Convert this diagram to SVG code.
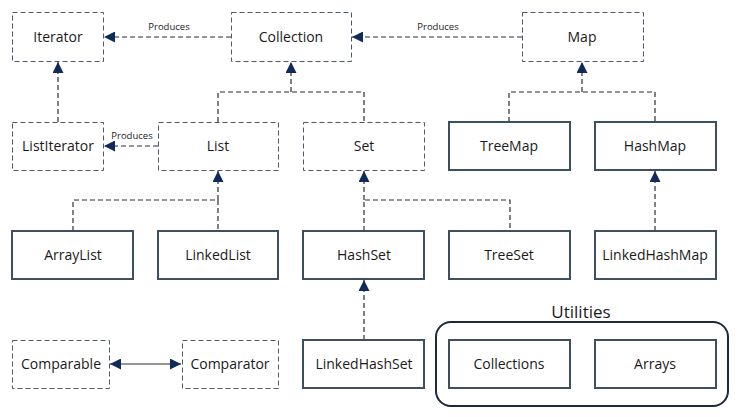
<svg xmlns="http://www.w3.org/2000/svg" width="740" height="417" viewBox="0 0 740 417">
<style>
.dash{fill:#fff;stroke:#4d5966;stroke-width:1;stroke-dasharray:5,3}
.solid{fill:#fff;stroke:#3e4f5f;stroke-width:2}
.lbl{font-family:"Open Sans","Noto Sans",sans-serif;font-size:14px;fill:#1a1a1a;text-anchor:middle}
.small{font-family:"Open Sans","Noto Sans",sans-serif;font-size:9.5px;fill:#1a1a1a;text-anchor:middle}
.conn{fill:none;stroke:#2b2f36;stroke-width:1.2;stroke-dasharray:5,3}
.arr{marker-end:url(#ah)}
</style>
<defs>
<marker id="ah" viewBox="0 0 10 10" refX="10" refY="5" markerWidth="11" markerHeight="11" markerUnits="userSpaceOnUse" orient="auto">
<path d="M0,0 L10,5 L0,10 Z" fill="#102a5a"/>
</marker>
<marker id="ahs" viewBox="0 0 10 10" refX="10" refY="5" markerWidth="11" markerHeight="11" markerUnits="userSpaceOnUse" orient="auto-start-reverse">
<path d="M0,0 L10,5 L0,10 Z" fill="#102a5a"/>
</marker>
</defs>
<rect width="740" height="417" fill="#fff"/>
<g id="connectors">
<path class="conn arr" d="M231,37 H104"/>
<path class="conn arr" d="M522,37 H352"/>
<path class="conn arr" d="M58,122 V62"/>
<path class="conn arr" d="M158,146 H104"/>
<path class="conn" d="M218,122 V92 H364 V122"/>
<path class="conn arr" d="M291,92 V62"/>
<path class="conn" d="M509,122 V92 H655 V122"/>
<path class="conn arr" d="M582,92 V62"/>
<path class="conn" d="M73,231 V200 H218 V231"/>
<path class="conn arr" d="M218,200 V171"/>
<path class="conn" d="M364,231 V200 H510 V231"/>
<path class="conn arr" d="M364,200 V171"/>
<path class="conn arr" d="M655,231 V171"/>
<path class="conn arr" d="M364,340 V280"/>
<path d="M110,364 H181" fill="none" stroke="#2b2f36" stroke-width="1.2" marker-start="url(#ahs)" marker-end="url(#ahs)"/>
<text class="small" x="169" y="30">Produces</text>
<text class="small" x="438" y="30">Produces</text>
<text class="small" x="132" y="139">Produces</text>
</g>
<g id="Iterator"><rect class="dash" x="12.5" y="12.5" width="91" height="49"/><text class="lbl" x="58" y="42">Iterator</text></g>
<g id="Collection"><rect class="dash" x="231.5" y="12.5" width="120" height="49"/><text class="lbl" x="291" y="42">Collection</text></g>
<g id="Map"><rect class="dash" x="522.5" y="12.5" width="121" height="49"/><text class="lbl" x="582" y="42">Map</text></g>
<g id="ListIterator"><rect class="dash" x="12.5" y="122.5" width="91" height="48"/><text class="lbl" x="58" y="151">ListIterator</text></g>
<g id="List"><rect class="dash" x="158.5" y="122.5" width="120" height="48"/><text class="lbl" x="218" y="151">List</text></g>
<g id="Set"><rect class="dash" x="303.5" y="122.5" width="121" height="48"/><text class="lbl" x="364" y="151">Set</text></g>
<g id="TreeMap"><rect class="solid" x="449" y="122" width="121" height="48"/><text class="lbl" x="509" y="151">TreeMap</text></g>
<g id="HashMap"><rect class="solid" x="595" y="122" width="121" height="48"/><text class="lbl" x="655" y="151">HashMap</text></g>
<g id="ArrayList"><rect class="solid" x="12" y="231" width="121" height="48"/><text class="lbl" x="73" y="260">ArrayList</text></g>
<g id="LinkedList"><rect class="solid" x="158" y="231" width="120" height="48"/><text class="lbl" x="218" y="260">LinkedList</text></g>
<g id="HashSet"><rect class="solid" x="303" y="231" width="121" height="48"/><text class="lbl" x="364" y="260">HashSet</text></g>
<g id="TreeSet"><rect class="solid" x="449" y="231" width="121" height="48"/><text class="lbl" x="509" y="260">TreeSet</text></g>
<g id="LinkedHashMap"><rect class="solid" x="595" y="231" width="121" height="48"/><text class="lbl" x="655" y="260">LinkedHashMap</text></g>
<g id="Comparable"><rect class="dash" x="12.5" y="340.5" width="97" height="48"/><text class="lbl" x="61" y="369">Comparable</text></g>
<g id="Comparator"><rect class="dash" x="182.5" y="340.5" width="96" height="48"/><text class="lbl" x="230" y="369">Comparator</text></g>
<g id="LinkedHashSet"><rect class="solid" x="303" y="340" width="121" height="48"/><text class="lbl" x="364" y="369">LinkedHashSet</text></g>
<g id="Utilities">
<rect x="436" y="322" width="292" height="84" rx="15" ry="15" fill="none" stroke="#1e2a3a" stroke-width="2"/>
<text class="lbl" x="581" y="318" style="font-size:17px">Utilities</text>
</g>
<g id="Collections"><rect class="solid" x="449" y="340" width="121" height="48"/><text class="lbl" x="509" y="369">Collections</text></g>
<g id="Arrays"><rect class="solid" x="595" y="340" width="121" height="48"/><text class="lbl" x="655" y="369">Arrays</text></g>
</svg>
